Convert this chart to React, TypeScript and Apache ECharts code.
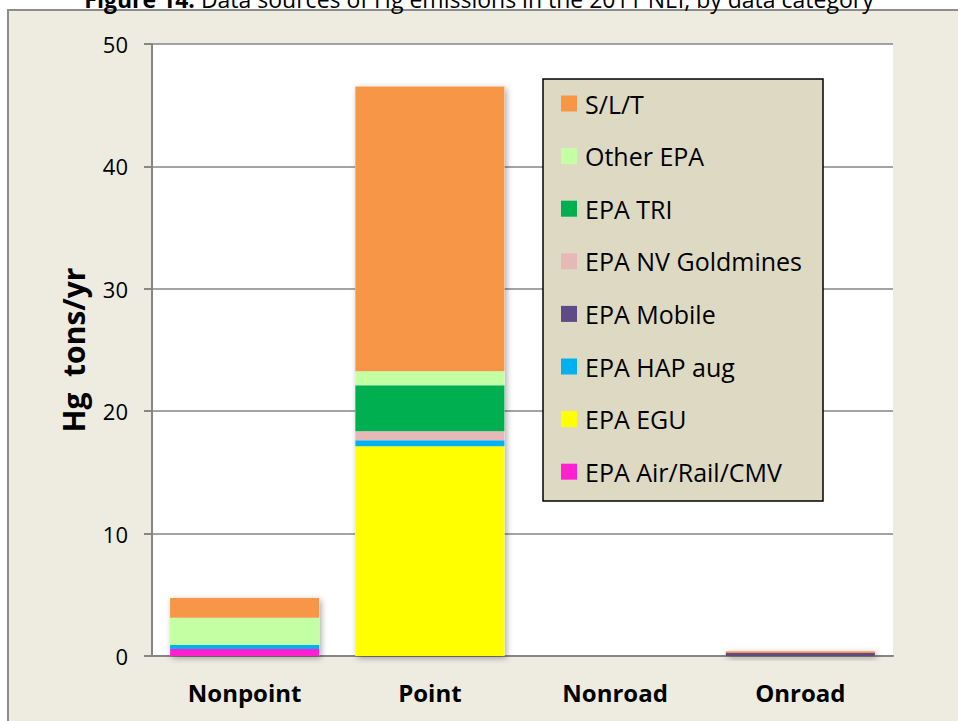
import React, { useEffect, useRef } from "react";
import * as echarts from "echarts";

const categories = ["Nonpoint", "Point", "Nonroad", "Onroad"];
const airRailCmv = [0.57, 0, 0, 0];
const epaEgu = [0, 17.14, 0, 0];
const hapAug = [0.33, 0.49, 0, 0];
const epaMobile = [0, 0, 0, 0.25];
const nvGoldmines = [0, 0.73, 0, 0];
const epaTri = [0, 3.76, 0, 0];
const otherEpa = [2.23, 1.14, 0, 0];
const slt = [1.6, 23.27, 0, 0.14];

const seriesNames = [
  "EPA Air/Rail/CMV",
  "EPA EGU",
  "EPA HAP aug",
  "EPA Mobile",
  "EPA NV Goldmines",
  "EPA TRI",
  "Other EPA",
  "S/L/T",
];
const seriesData = [airRailCmv, epaEgu, hapAug, epaMobile, nvGoldmines, epaTri, otherEpa, slt];
const seriesColors = ["#FF21CF", "#FFFF00", "#00B0F0", "#604A86", "#E6B9B8", "#00B050", "#C4FFA4", "#F79646"];

const yTicks = [0, 10, 20, 30, 40, 50];
const titleText = "Data sources of Hg emissions in the 2011 NEI, by data category";

const FONT = "'Open Sans', sans-serif";

export default function App() {
  const ref = useRef<HTMLDivElement>(null);
  useEffect(() => {
    if (!ref.current) return;
    const chart = echarts.init(ref.current, null, { renderer: "svg" });
    const totals = categories.map((_, i) => seriesData.reduce((s, arr) => s + arr[i], 0));
    const bars: any[] = seriesNames.map((name, k) => ({
      name,
      type: "bar",
      stack: "hg",
      data: seriesData[k],
      barWidth: "80.5%",
      itemStyle: { color: seriesColors[k] },
      z: 3,
    }));
    chart.setOption({
      animation: false,
      textStyle: { fontFamily: FONT },
      graphic: [
        {
          type: "rect",
          z: -10,
          silent: true,
          shape: { x: 8, y: 10, width: 1000, height: 760 },
          style: { fill: "#EEECE1", stroke: "#8C8C8C", lineWidth: 2 },
        },
        {
          type: "rect",
          z: -9,
          silent: true,
          shape: { x: 152, y: 44, width: 741, height: 612 },
          style: { fill: "#FFFFFF" },
        },
        {
          type: "text",
          z: 10,
          x: 479,
          y: 10,
          style: {
            text: "{b|Figure 14:} " + titleText,
            align: "center",
            verticalAlign: "bottom",
            fontSize: 23,
            fontFamily: FONT,
            fill: "#000",
            rich: { b: { fontWeight: "bold", fontSize: 23, fontFamily: FONT } },
          },
        },
        {
          type: "rect",
          z: 3,
          silent: true,
          shape: { x: 543, y: 79, width: 280, height: 422 },
          style: { fill: "#DDD9C3", stroke: "#000000", lineWidth: 1.5 },
        },
      ],
      grid: { left: 152, right: 65, top: 44, bottom: 65, containLabel: false },
      legend: {
        data: seriesNames.slice().reverse(),
        orient: "vertical",
        left: 561,
        top: 91,
        itemWidth: 16,
        itemHeight: 16,
        itemGap: 27.6,
        icon: "rect",
        z: 5,
        padding: 0,
        textStyle: { fontSize: 25, fontFamily: FONT, color: "#000", lineHeight: 24, padding: [0, 0, 0, 3] },
      },
      xAxis: {
        type: "category",
        data: categories,
        axisLine: { lineStyle: { color: "#868686", width: 2 } },
        axisTick: { length: 9, lineStyle: { color: "#868686", width: 2 } },
        axisLabel: { fontSize: 24, fontWeight: "bold", color: "#000", margin: 24, fontFamily: FONT },
      },
      yAxis: {
        type: "value",
        min: 0,
        max: 50,
        interval: 10,
        name: "Hg  tons/yr",
        nameLocation: "middle",
        nameGap: 64,
        nameTextStyle: { fontSize: 30, fontWeight: "bold", color: "#000", fontFamily: FONT },
        axisLine: { show: true, lineStyle: { color: "#868686", width: 2 } },
        axisTick: { show: true, length: 8, lineStyle: { color: "#868686", width: 2 } },
        axisLabel: {
          fontSize: 22,
          color: "#000",
          margin: 24,
          fontFamily: FONT,
          formatter: (v: number) => (yTicks.includes(v) ? String(v) : ""),
        },
        splitLine: { lineStyle: { color: "#868686", width: 1.5 } },
      },
      series: [
        {
          name: "total",
          type: "bar",
          data: totals,
          barWidth: "80.5%",
          barGap: "-100%",
          silent: true,
          z: 2,
          itemStyle: {
            color: "#FFFFFF",
            shadowColor: "rgba(0,0,0,0.35)",
            shadowBlur: 6,
            shadowOffsetX: 2,
            shadowOffsetY: 2,
          },
        },
        ...bars,
      ],
    });
    return () => chart.dispose();
  }, []);
  return (
    <div
      ref={ref}
      style={{ position: "absolute", left: 0, top: 0, width: 958, height: 721, background: "#FFFFFF" }}
    />
  );
}
